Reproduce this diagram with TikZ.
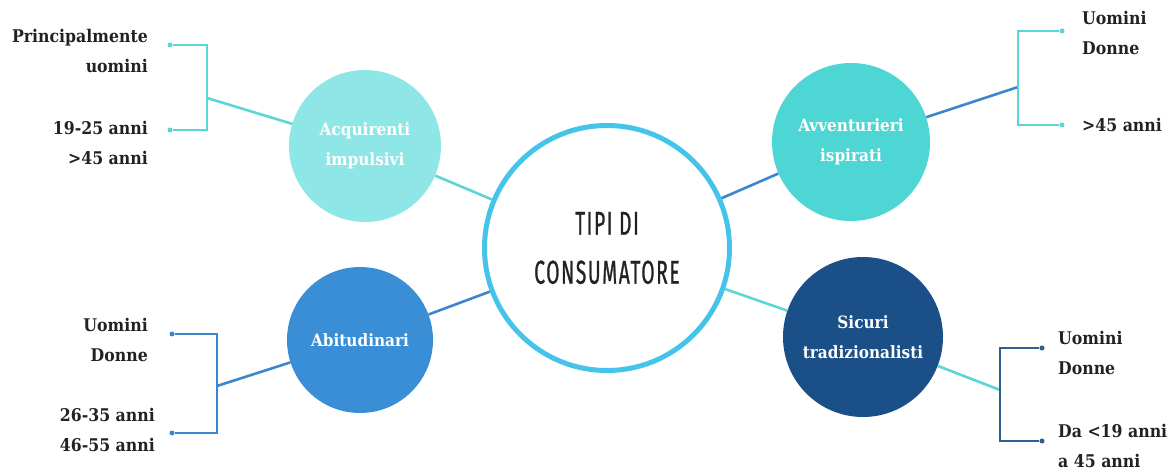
\documentclass[tikz,border=0pt]{standalone}
\usepackage{fontspec}
\setmainfont{DejaVu Serif}
\newfontfamily\slab{DejaVu Serif Condensed Bold}
\newfontfamily\cond[FakeStretch=0.58,FakeBold=0.8,LetterSpace=5]{Fira Sans}
\definecolor{ink}{HTML}{222222}
\definecolor{mainring}{HTML}{45C3EA}
\definecolor{acqfill}{HTML}{8EE6E6}
\definecolor{avvfill}{HTML}{4ED6D5}
\definecolor{abifill}{HTML}{3A8ED6}
\definecolor{sicfill}{HTML}{1B4F87}
\definecolor{turq}{HTML}{5CD6D4}
\definecolor{midblue}{HTML}{3B86CE}
\definecolor{darkblue}{HTML}{2F5E90}
\begin{document}
\begin{tikzpicture}[x=1pt,y=-1pt,
  bubble/.style={circle,inner sep=0pt,text=white,align=center,
    font=\slab\fontsize{17}{30}\selectfont},
  link/.style={line width=2.6pt},
  brace/.style={line width=1.6pt},
  tip/.style={circle,inner sep=0pt,minimum size=5pt},
  lefttxt/.style={anchor=east,text=ink,font=\slab\fontsize{17.5}{30}\selectfont,align=right,inner sep=0pt},
  righttxt/.style={anchor=west,text=ink,font=\slab\fontsize{17.5}{30}\selectfont,align=left,inner sep=0pt}]
\useasboundingbox (0,0) rectangle (1168,470);

% central topic
\node[circle,draw=mainring,line width=5pt,minimum size=245pt,inner sep=0pt,
  text=ink,align=center,font=\cond\fontsize{33}{49}\selectfont]
  (main) at (607,248) {TIPI DI\\CONSUMATORE};

% the four consumer types
\node[bubble,fill=acqfill,minimum size=152pt] (acq) at (365,146) {Acquirenti\\impulsivi};
\node[bubble,fill=avvfill,minimum size=158pt] (avv) at (851,142) {Avventurieri\\ispirati};
\node[bubble,fill=abifill,minimum size=146pt] (abi) at (360,340) {Abitudinari};
\node[bubble,fill=sicfill,minimum size=160pt] (sic) at (863,337) {Sicuri\\tradizionalisti};

% bracket joints and tips
\coordinate (acqJ) at (207,98);
\coordinate (acqJt) at (207,45);
\coordinate (acqJb) at (207,130);
\node[tip,fill=turq] (acqT1) at (170,45) {};
\node[tip,fill=turq] (acqT2) at (170,130) {};

\coordinate (avvJ) at (1018,87);
\coordinate (avvJt) at (1018,31);
\coordinate (avvJb) at (1018,125);
\node[tip,fill=turq] (avvT1) at (1062,31) {};
\node[tip,fill=turq] (avvT2) at (1062,125) {};

\coordinate (abiJ) at (217,386);
\coordinate (abiJt) at (217,334);
\coordinate (abiJb) at (217,433);
\node[tip,fill=midblue] (abiT1) at (172,334) {};
\node[tip,fill=midblue] (abiT2) at (172,433) {};

\coordinate (sicJ) at (1000,390);
\coordinate (sicJt) at (1000,348);
\coordinate (sicJb) at (1000,441);
\node[tip,fill=darkblue] (sicT1) at (1042,348) {};
\node[tip,fill=darkblue] (sicT2) at (1042,441) {};

% links to the centre
\draw[link,turq] (acq) -- (main);
\draw[link,midblue] (avv) -- (main);
\draw[link,midblue] (abi) -- (main);
\draw[link,turq] (sic) -- (main);

% links to the brackets
\draw[link,turq] (acq) -- (acqJ);
\draw[link,midblue] (avv) -- (avvJ);
\draw[link,midblue] (abi) -- (abiJ);
\draw[link,turq] (sic) -- (sicJ);

% brackets
\draw[brace,turq] (acqT1) -- (acqJt) -- (acqJb) -- (acqT2);
\draw[brace,turq] (avvT1) -- (avvJt) -- (avvJb) -- (avvT2);
\draw[brace,midblue] (abiT1) -- (abiJt) -- (abiJb) -- (abiT2);
\draw[brace,darkblue] (sicT1) -- (sicJt) -- (sicJb) -- (sicT2);

% descriptions
\node[lefttxt] (acqD1) at (148,51) {Principalmente\\uomini};
\node[lefttxt] (acqD2) at (148,143) {19-25 anni\\>45 anni};
\node[lefttxt] (abiD1) at (148,340) {Uomini\\Donne};
\node[lefttxt] (abiD2) at (155,430) {26-35 anni\\46-55 anni};
\node[righttxt] (avvD1) at (1082,33) {Uomini\\Donne};
\node[righttxt] (avvD2) at (1082,125) {>45 anni};
\node[righttxt] (sicD1) at (1058,353) {Uomini\\Donne};
\node[righttxt] (sicD2) at (1058,446) {Da <19 anni\\a 45 anni};
\end{tikzpicture}
\end{document}
